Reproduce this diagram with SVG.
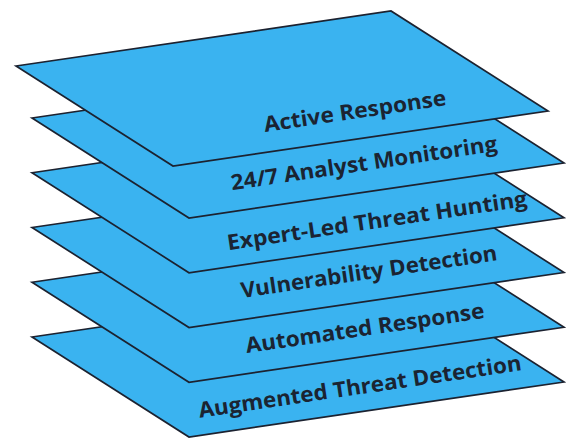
<svg xmlns="http://www.w3.org/2000/svg" width="566" height="439" viewBox="0 0 566 439">
<style>
.layer{fill:#3AB3F0;stroke:#1C2230;stroke-width:1.7;stroke-linejoin:miter}
.lbl{font-family:"Open Sans","Lato","Liberation Sans",sans-serif;font-weight:700;font-size:21.5px;fill:#1B2432;text-anchor:middle}
</style>
<rect width="566" height="439" fill="#FFFFFF"/>
<g id="layer-augmented-threat-detection">
<polygon class="layer" points="32,337 407,282 564,382 189,437"/>
<text class="lbl" transform="translate(361,394) rotate(-8.4)" textLength="326" lengthAdjust="spacingAndGlyphs">Augmented Threat Detection</text>
</g>
<g id="layer-automated-response">
<polygon class="layer" points="32,282.25 407,227.25 564,327.25 189,382.25"/>
<text class="lbl" transform="translate(366,335.5) rotate(-8.4)" textLength="241" lengthAdjust="spacingAndGlyphs">Automated Response</text>
</g>
<g id="layer-vulnerability-detection">
<polygon class="layer" points="32,227.5 407,172.5 564,272.5 189,327.5"/>
<text class="lbl" transform="translate(370,279) rotate(-8.4)" textLength="259" lengthAdjust="spacingAndGlyphs">Vulnerability Detection</text>
</g>
<g id="layer-expert-led-threat-hunting">
<polygon class="layer" points="32,172.75 407,117.75 564,217.75 189,272.75"/>
<text class="lbl" transform="translate(378,228) rotate(-8.4)" textLength="303" lengthAdjust="spacingAndGlyphs">Expert-Led Threat Hunting</text>
</g>
<g id="layer-analyst-monitoring">
<polygon class="layer" points="32,118 407,63 564,163 189,218"/>
<text class="lbl" transform="translate(365,170.5) rotate(-8.4)" textLength="269" lengthAdjust="spacingAndGlyphs">24/7 Analyst Monitoring</text>
</g>
<g id="layer-active-response">
<polygon class="layer" points="16,66 391,11 548,111 173,166"/>
<text class="lbl" transform="translate(356,118.5) rotate(-8.4)" textLength="184" lengthAdjust="spacingAndGlyphs">Active Response</text>
</g>
</svg>
